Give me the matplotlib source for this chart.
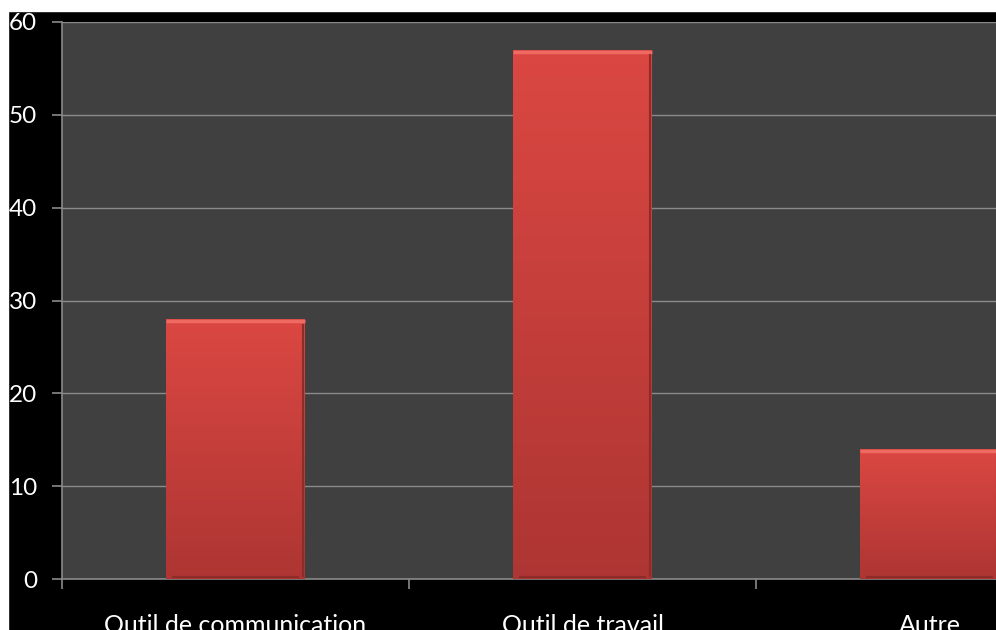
import matplotlib.pyplot as plt
import numpy as np
from matplotlib.patches import Rectangle

categories = ["Outil de communication", "Outil de travail", "Autre"]
values = [28, 57, 14]
yticks = [0, 10, 20, 30, 40, 50, 60]

plt.rcParams['font.family'] = ['Lato', 'DejaVu Sans']

fig = plt.figure(figsize=(9.96, 6.3), dpi=100, facecolor='black')
ax = fig.add_axes([62 / 996, 51 / 630, 934 / 996, 557 / 630])
ax.set_facecolor('#404040')

x = np.arange(len(categories))
bars = ax.bar(x, values, width=0.4, color='#c93f3b', zorder=3)

# vertical gradient + bevel look on each bar
grad = np.linspace(0, 1, 256).reshape(-1, 1)
top = np.array([0.86, 0.28, 0.26])
bot = np.array([0.68, 0.21, 0.20])
img = top + (bot - top) * grad
for b in bars:
    x0, w, h = b.get_x(), b.get_width(), b.get_height()
    im = ax.imshow(img[:, None, :].repeat(2, axis=1), extent=(x0, x0 + w, 0, h),
                   aspect='auto', zorder=3.5, origin='upper')
    im.set_clip_path(b)
    ax.plot([x0, x0 + w], [h - 0.2, h - 0.2], color='#ee6a63', lw=2.5, zorder=4,
            solid_capstyle='butt')
    ax.plot([x0 + w - 0.006, x0 + w - 0.006], [0.3, h - 0.6], color='#8e2c2a', lw=1.5, zorder=4)
    ax.plot([x0 + 0.02, x0 + w - 0.02], [0.25, 0.25], color='#8e2c2a', lw=1.5, zorder=4)

ax.set_xlim(-0.5, -0.5 + 934 / 347)
ax.set_ylim(0, 60)
ax.set_yticks(yticks)
ax.set_xticks([-0.5, 0.5, 1.5], minor=False)
ax.set_xticklabels([])
ax.set_xticks(x, minor=True)
ax.set_xticklabels(categories, minor=True)
ax.grid(axis='y', color='#8a8a8a', lw=1, zorder=1)

for s in ['top', 'right']:
    ax.spines[s].set_visible(False)
for s in ['left', 'bottom']:
    ax.spines[s].set_color('#8a8a8a')
    ax.spines[s].set_linewidth(1.2)

ax.tick_params(axis='y', colors='#8a8a8a', labelcolor='white', labelsize=17.5,
               length=7, width=1.2, pad=11)
ax.tick_params(axis='x', which='major', colors='#8a8a8a', length=7, width=1.2)
ax.tick_params(axis='x', which='minor', length=0, labelcolor='white', labelsize=18, pad=25)

# white strips at top and left, as in the cropped screenshot
fig.add_artist(Rectangle((0, 1 - 11 / 630), 1, 11 / 630, transform=fig.transFigure,
                         color='white', zorder=10))
fig.add_artist(Rectangle((0, 0), 8 / 996, 1, transform=fig.transFigure,
                         color='white', zorder=10))

fig.savefig('out.png', dpi=100, facecolor='black')
